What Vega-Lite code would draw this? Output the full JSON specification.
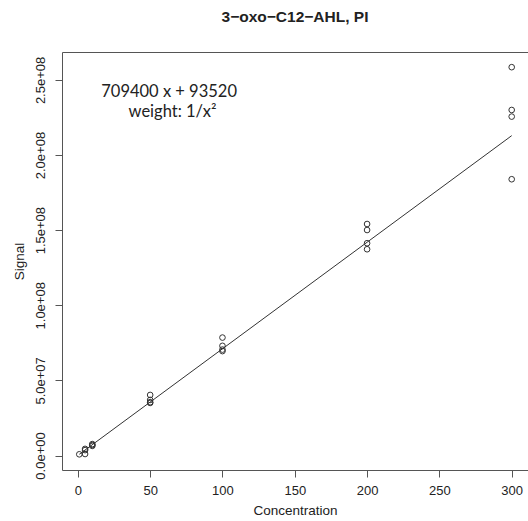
{
  "$schema": "https://vega.github.io/schema/vega-lite/v6.json",
  "autosize": {"type": "none"},
  "padding": {"left": 62, "top": 52, "right": 0, "bottom": 51},
  "width": 466,
  "height": 418,
  "background": "white",
  "config": {
    "view": {"stroke": "#555", "strokeWidth": 1},
    "font": "Liberation Sans"
  },
  "title": {
    "text": "3−oxo−C12−AHL, PI",
    "font": "Liberation Sans",
    "fontSize": 15.5,
    "fontWeight": "bold",
    "color": "#222",
    "anchor": "middle",
    "offset": 27
  },
  "datasets": {
    "points": [
      {"Concentration": 1, "Signal": 800000},
      {"Concentration": 5, "Signal": 1000000},
      {"Concentration": 5, "Signal": 3600000},
      {"Concentration": 5, "Signal": 4400000},
      {"Concentration": 10, "Signal": 6400000},
      {"Concentration": 10, "Signal": 7000000},
      {"Concentration": 10, "Signal": 7600000},
      {"Concentration": 50, "Signal": 40300000},
      {"Concentration": 50, "Signal": 37000000},
      {"Concentration": 50, "Signal": 35000000},
      {"Concentration": 50, "Signal": 35500000},
      {"Concentration": 100, "Signal": 78500000},
      {"Concentration": 100, "Signal": 73000000},
      {"Concentration": 100, "Signal": 70500000},
      {"Concentration": 100, "Signal": 69500000},
      {"Concentration": 200, "Signal": 154100000},
      {"Concentration": 200, "Signal": 150100000},
      {"Concentration": 200, "Signal": 141300000},
      {"Concentration": 200, "Signal": 137300000},
      {"Concentration": 300, "Signal": 258500000},
      {"Concentration": 300, "Signal": 230000000},
      {"Concentration": 300, "Signal": 225600000},
      {"Concentration": 300, "Signal": 183900000}
    ],
    "fit": [
      {"Concentration": 1, "Signal": 802920},
      {"Concentration": 300, "Signal": 212913520}
    ],
    "labels": [
      {"line": "equation", "text": "709400 x + 93520"},
      {"line": "weight", "text": "weight: 1/x²"}
    ]
  },
  "layer": [
    {
      "data": {"name": "fit"},
      "mark": {"type": "line", "color": "#333", "strokeWidth": 1},
      "encoding": {
        "x": {"field": "Concentration", "type": "quantitative"},
        "y": {"field": "Signal", "type": "quantitative"}
      }
    },
    {
      "data": {"name": "points"},
      "mark": {"type": "point", "shape": "circle", "filled": false, "stroke": "#333", "strokeWidth": 1, "size": 32, "opacity": 1},
      "encoding": {
        "x": {
          "field": "Concentration",
          "type": "quantitative",
          "scale": {"domain": [-10.96, 311.27], "nice": false, "zero": false},
          "axis": {
            "values": [0, 50, 100, 150, 200, 250, 300],
            "grid": false,
            "domain": false,
            "tickSize": 7,
            "tickColor": "#555",
            "labelFont": "Liberation Sans",
            "labelFontSize": 13,
            "labelColor": "#222",
            "labelPadding": 7,
            "labelFlush": false,
            "labelOverlap": false,
            "title": "Concentration",
            "titleFont": "Liberation Sans",
            "titleFontSize": 13.5,
            "titleFontWeight": "normal",
            "titleColor": "#222",
            "titlePadding": 6
          }
        },
        "y": {
          "field": "Signal",
          "type": "quantitative",
          "scale": {"domain": [-9650000, 268600000], "nice": false, "zero": false},
          "axis": {
            "values": [0, 50000000, 100000000, 150000000, 200000000, 250000000],
            "grid": false,
            "domain": false,
            "tickSize": 7,
            "tickColor": "#555",
            "labelExpr": "replace(format(datum.value, '.1e'), 'e+', 'e+0')",
            "labelAngle": 270,
            "labelAlign": "center",
            "labelBaseline": "bottom",
            "labelFont": "Liberation Sans",
            "labelFontSize": 13,
            "labelColor": "#222",
            "labelPadding": 8,
            "labelFlush": false,
            "labelOverlap": false,
            "title": "Signal",
            "titleFont": "Liberation Sans",
            "titleFontSize": 13.5,
            "titleFontWeight": "normal",
            "titleColor": "#222",
            "titlePadding": 8
          }
        }
      }
    },
    {
      "data": {"name": "labels"},
      "transform": [{"filter": "datum.line == 'equation'"}],
      "mark": {"type": "text", "font": "Lato", "fontSize": 16.5, "color": "#222", "align": "center", "baseline": "middle"},
      "encoding": {
        "x": {"datum": 63.1, "type": "quantitative"},
        "y": {"datum": 242200000, "type": "quantitative"},
        "text": {"field": "text"}
      }
    },
    {
      "data": {"name": "labels"},
      "transform": [{"filter": "datum.line == 'weight'"}],
      "mark": {"type": "text", "font": "Lato", "fontSize": 16.5, "color": "#222", "align": "center", "baseline": "middle"},
      "encoding": {
        "x": {"datum": 65.5, "type": "quantitative"},
        "y": {"datum": 228900000, "type": "quantitative"},
        "text": {"field": "text"}
      }
    }
  ]
}
